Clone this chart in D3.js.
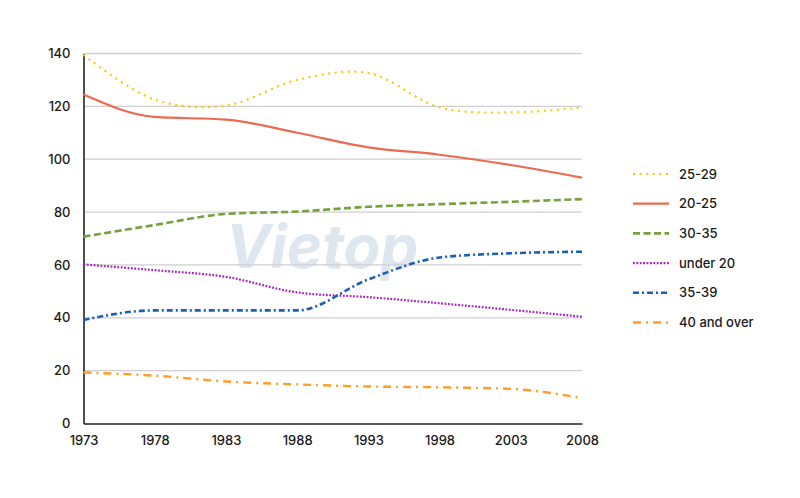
<!DOCTYPE html>
<html><head><meta charset="utf-8">
<script src="https://cdn.jsdelivr.net/npm/d3@7"></script>
<style>
html,body{margin:0;padding:0;background:#fff;}
text{font-family:Inter,"Noto Sans",sans-serif;}
</style></head>
<body><svg id="chart" width="800" height="498"></svg>
<script>
const years = [1973, 1978, 1983, 1988, 1993, 1998, 2003, 2008];
const yTicks = [0, 20, 40, 60, 80, 100, 120, 140];
const seriesNames = ["25-29", "20-25", "30-35", "under 20", "35-39", "40 and over"];
const v25_29 = [139.5, 122.5, 120.3, 130, 132.6, 119.6, 117.7, 119.6];
const v20_25 = [124.5, 116, 115, 110, 104.5, 101.7, 97.8, 93];
const v30_35 = [70.7, 75.1, 79.3, 80.2, 82, 83, 83.9, 84.9];
const vUnder20 = [60.2, 58, 55.5, 49.6, 47.8, 45.5, 43, 40.4];
const v35_39 = [39.2, 42.8, 42.8, 42.8, 54.5, 62.8, 64.4, 65];
const v40over = [19.3, 18.1, 15.9, 14.8, 14, 13.7, 13.1, 9.6];

const seriesValues = [v25_29, v20_25, v30_35, vUnder20, v35_39, v40over];
const styles = [
  {color:"#FFC800", width:2.2, dash:"2,4.6", smooth:true},
  {color:"#EC6A52", width:2.2, dash:null, smooth:false},
  {color:"#76A13C", width:2.6, dash:"7,3.5", smooth:false},
  {color:"#A61FC4", width:2.2, dash:"1.8,1.6", smooth:false},
  {color:"#1B5FB7", width:2.6, dash:"6,3,2,3", smooth:false},
  {color:"#FF9D24", width:2.4, dash:"8,5,2,5", smooth:false}
];

const svg = d3.select("#chart");
const x = d3.scaleLinear().domain([1973, 2008]).range([83.5, 582]);
const y = d3.scaleLinear().domain([0, 140]).range([423.5, 53.5]);

// watermark
svg.append("text").attr("x", 322).attr("y", 268).attr("text-anchor","middle")
  .attr("font-family","DejaVu Serif").attr("font-style","italic").attr("font-weight","bold")
  .attr("font-size", 60).attr("fill","#c9d6e6").attr("opacity",0.6).text("Vietop");

// gridlines
const grid = svg.append("g").attr("class","grid");
grid.selectAll("line").data(yTicks.filter(d=>d>0)).join("line")
  .attr("x1", x(1973)).attr("x2", x(2008))
  .attr("y1", d=>y(d)).attr("y2", d=>y(d))
  .attr("stroke","#cfcfcf").attr("stroke-width",1.3);

// y axis
const yAxis = d3.axisLeft(y).tickValues(yTicks).tickSize(0).tickPadding(13);
const gy = svg.append("g").attr("transform",`translate(${x(1973)},0)`).call(yAxis);
gy.select(".domain").attr("stroke","#222").attr("stroke-width",1.6);
gy.selectAll("text").attr("font-size",13).attr("fill","#1a1a1a").attr("font-weight",500);

// x axis
const xAxis = d3.axisBottom(x).tickValues(years).tickFormat(d3.format("d")).tickSize(0).tickPadding(12);
const gx = svg.append("g").attr("transform",`translate(0,${y(0)})`).call(xAxis);
gx.select(".domain").attr("stroke","#222").attr("stroke-width",1.6);
gx.selectAll("text").attr("font-size",13).attr("fill","#1a1a1a").attr("font-weight",500);

// lines
const lineSmooth = d3.line().x((d,i)=>x(years[i])).y(d=>y(d)).curve(d3.curveCatmullRom.alpha(0.5));
const lineMono = d3.line().x((d,i)=>x(years[i])).y(d=>y(d)).curve(d3.curveMonotoneX);
const order = [3,4,5,2,1,0];
order.forEach(k=>{
  const s = styles[k];
  svg.append("path").datum(seriesValues[k])
    .attr("d", s.smooth ? lineSmooth : lineMono).attr("fill","none")
    .attr("stroke", s.color).attr("stroke-width", s.width)
    .attr("stroke-dasharray", s.dash);
});

// legend
const legY = d3.scaleLinear().domain([0,5]).range([174, 322.5]);
const leg = svg.append("g");
seriesNames.forEach((n,i)=>{
  const s = styles[i];
  leg.append("line").attr("x1",633).attr("x2",669)
    .attr("y1",legY(i)).attr("y2",legY(i))
    .attr("stroke",s.color).attr("stroke-width",s.width)
    .attr("stroke-dasharray",s.dash);
  leg.append("text").attr("x",679).attr("y",legY(i)).attr("dy","0.35em")
    .attr("font-size",13).attr("fill","#1a1a1a").attr("font-weight",500).text(n);
});
</script></body></html>
